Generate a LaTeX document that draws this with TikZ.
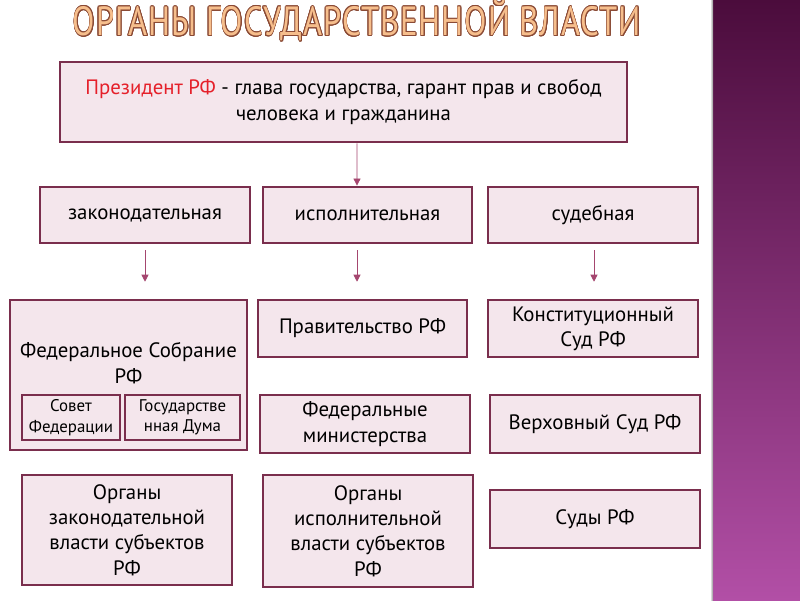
\documentclass[tikz,border=0pt]{standalone}
\usepackage{fontspec}
\setmainfont{PT Sans}
\newfontfamily\titlefont[LetterSpace=3]{PT Sans}
\usepackage{contour}
\usetikzlibrary{arrows.meta}
\definecolor{boxfill}{HTML}{F4E6EC}
\definecolor{boxline}{HTML}{7A2E4D}
\definecolor{arrowc}{HTML}{A5466F}
\definecolor{presred}{HTML}{E5202A}
\definecolor{titlefill}{HTML}{F6BE8C}
\definecolor{titleline}{HTML}{8A4A35}
\definecolor{bartop}{HTML}{4B0C3C}
\definecolor{barbot}{HTML}{B24FA6}
\tikzset{
  box/.style={draw=boxline, fill=boxfill, line width=2pt, align=center, inner sep=2pt,
    font=\fontsize{14.8}{18}\selectfont},
  small/.style={box, line width=1.6pt, font=\fontsize{12}{14.5}\selectfont},
  sz/.style 2 args={minimum width=#1*0.025cm, minimum height=#2*0.025cm},
  flow/.style={draw=arrowc, line width=0.6pt, -{Triangle[length=5pt,width=5pt]}}
}
\contourlength{0.6pt}
\begin{document}
\begin{tikzpicture}[x=0.025cm, y=-0.025cm]
  % page
  \fill[white] (0,0) rectangle (800,600);
  \useasboundingbox (0,0) rectangle (800,600);
  % side bar
  \shade[top color=bartop, bottom color=barbot] (713,0) rectangle (800,600);
  \shade[left color=white, right color=black!45] (710,0) rectangle (713,600);
  % title
  \node[xscale=0.8, transform shape] (title) at (357,21) {\titlefont\fontsize{29}{30}\selectfont\contour{titleline}{\textcolor{titlefill}{ОРГАНЫ ГОСУДАРСТВЕННОЙ ВЛАСТИ}}};
  % president
  \node[box, sz={567}{80}] (pres) at (343.5,102) {\textcolor{presred}{Президент РФ} - глава государства, гарант прав и свобод\\человека и гражданина};
  % branches
  \node[box, sz={210}{56}] (zak) at (145,215) {законодательная};
  \node[box, sz={209}{56}] (isp) at (367.5,215) {исполнительная};
  \node[box, sz={210}{56}] (sud) at (593,215) {судебная};
  % legislative
  \node[box, sz={237}{150}] (fs) at (128.5,375) {};
  \node[font=\fontsize{14.8}{18}\selectfont, align=center] (fstext) at (128.5,363) {Федеральное Собрание\\РФ};
  \node[small, sz={98}{45}] (sf) at (71,417.5) {Совет\\Федерации};
  \node[small, sz={115}{45}] (gd) at (182.5,417.5) {Государстве\\нная Дума};
  \node[box, sz={210}{110}] (ozs) at (127,530) {Органы\\законодательной\\власти субъектов\\РФ};
  % executive
  \node[box, sz={209}{57}] (prav) at (362.5,328.5) {Правительство РФ};
  \node[box, sz={210}{58}] (fm) at (365,424) {Федеральные\\министерства};
  \node[box, sz={210}{112}] (ois) at (368,531) {Органы\\исполнительной\\власти субъектов\\РФ};
  % judicial
  \node[box, sz={210}{57}] (ks) at (593,328.5) {Конституционный\\Суд РФ};
  \node[box, sz={210}{58}] (vs) at (595,424) {Верховный Суд РФ};
  \node[box, sz={210}{58}] (sudy) at (595,519) {Суды РФ};
  % arrows
  \draw[flow] ([xshift=13.5*0.025cm]pres.south) -- ([xshift=-10.5*0.025cm]isp.north);
  \draw[flow, shorten <=4pt, shorten >=12pt] (zak.south) -- (zak.south |- fs.north);
  \draw[flow, shorten <=4pt, shorten >=12pt] ([xshift=-10.5*0.025cm]isp.south) -- ([xshift=-10.5*0.025cm]isp.south |- prav.north);
  \draw[flow, shorten <=4pt, shorten >=12pt] ([xshift=1*0.025cm]sud.south) -- ([xshift=1*0.025cm]sud.south |- ks.north);
\end{tikzpicture}
\end{document}
